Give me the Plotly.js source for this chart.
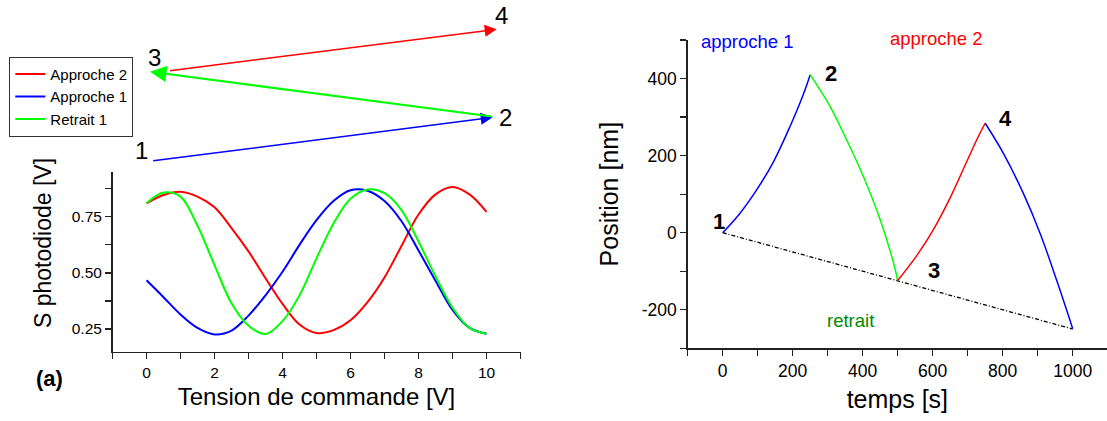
<!DOCTYPE html>
<html>
<head>
<meta charset="utf-8">
<script src="https://cdn.plot.ly/plotly-3.0.1.min.js"></script>
<style>html,body{margin:0;padding:0;background:#fff;}</style>
</head>
<body>
<div id="chart" style="width:1107px;height:421px;"></div>
<script>
// ---------- (a) photodiode signal vs control voltage ----------
const voltage   = [0, 0.5, 1, 1.5, 2, 2.5, 3, 3.5, 4, 4.5, 5, 5.5, 6, 6.5, 7, 7.5, 8, 8.5, 9, 9.5, 10];
const approche2 = [0.81, 0.847, 0.862, 0.84, 0.792, 0.70, 0.596, 0.476, 0.362, 0.27, 0.232, 0.245, 0.289, 0.37, 0.48, 0.62, 0.76, 0.85, 0.883, 0.85, 0.772];
const approche1 = [0.467, 0.392, 0.315, 0.255, 0.226, 0.243, 0.31, 0.40, 0.505, 0.625, 0.735, 0.82, 0.868, 0.866, 0.82, 0.73, 0.60, 0.465, 0.335, 0.255, 0.229];
const retrait1  = [0.81, 0.858, 0.84, 0.71, 0.535, 0.365, 0.265, 0.228, 0.285, 0.40, 0.565, 0.72, 0.83, 0.872, 0.855, 0.78, 0.64, 0.485, 0.345, 0.255, 0.229];
const seriesNames = ['Approche 2', 'Approche 1', 'Retrait 1'];

// ---------- position vs time ----------
const tApproche1   = [0, 49, 97, 145, 192, 230, 250];
const posApproche1 = [0, 50, 111, 184, 275, 358, 410];
const tRetrait     = [250, 307, 354, 402, 449, 488, 500];
const posRetrait   = [410, 327, 241, 146, 36, -78, -124];
const tApproche2   = [500, 554, 602, 649, 697, 730, 750];
const posApproche2 = [-124, -60, 8, 89, 184, 249, 284];
const tRetour      = [750, 802, 859, 907, 954, 1000];
const posRetour    = [284, 206, 102, -2, -123, -249];
const tBaseline    = [0, 1000];
const posBaseline  = [0, -250];
const positionTickVals = [-200, 0, 200, 400];
const positionTickText = ['-200', '0', '200', '400'];

const FONT = 'Liberation Sans, Arial, Helvetica, sans-serif';
const RED = '#ff0000', BLUE = '#0000ff', GREEN = '#00ff00', AX = '#222222';
const W = 1107, H = 421;

const traces = [
  {x: voltage, y: approche2, name: seriesNames[0], mode: 'lines', line: {color: RED, width: 2, shape: 'spline', smoothing: 1}, xaxis: 'x', yaxis: 'y'},
  {x: voltage, y: approche1, name: seriesNames[1], mode: 'lines', line: {color: BLUE, width: 2, shape: 'spline', smoothing: 1}, xaxis: 'x', yaxis: 'y'},
  {x: voltage, y: retrait1,  name: seriesNames[2], mode: 'lines', line: {color: GREEN, width: 2, shape: 'spline', smoothing: 1}, xaxis: 'x', yaxis: 'y'},
  {x: tBaseline, y: posBaseline, mode: 'lines', showlegend: false, line: {color: '#000', width: 1.3, dash: '4px,2px,1px,2px'}, xaxis: 'x2', yaxis: 'y2'},
  {x: tApproche1, y: posApproche1, mode: 'lines', showlegend: false, line: {color: BLUE, width: 1.5, shape: 'spline'}, xaxis: 'x2', yaxis: 'y2'},
  {x: tRetrait, y: posRetrait, mode: 'lines', showlegend: false, line: {color: GREEN, width: 1.5, shape: 'spline'}, xaxis: 'x2', yaxis: 'y2'},
  {x: tApproche2, y: posApproche2, mode: 'lines', showlegend: false, line: {color: RED, width: 1.5, shape: 'spline'}, xaxis: 'x2', yaxis: 'y2'},
  {x: tRetour, y: posRetour, mode: 'lines', showlegend: false, line: {color: BLUE, width: 1.5, shape: 'spline'}, xaxis: 'x2', yaxis: 'y2'}
];

function axisBase(extra) {
  return Object.assign({
    showline: true, linecolor: AX, linewidth: 1.5, mirror: false,
    ticks: 'outside', ticklen: 6, tickwidth: 1.2, tickcolor: AX,
    showgrid: false, zeroline: false, automargin: false, fixedrange: true
  }, extra);
}

const px = v => v / W;           // pixel -> paper x
const py = v => 1 - v / H;       // pixel -> paper y

const diag = {xref: 'x3', yref: 'y3', axref: 'x3', ayref: 'y3', text: '', showarrow: true, arrowhead: 2};
const num = (t, x, y) => ({xref: 'x3', yref: 'y3', x: x, y: y, text: t, showarrow: false, font: {family: FONT, size: 24, color: '#000'}});
const bold = (t, x, y) => ({xref: 'x2', yref: 'y2', x: x, y: y, text: '<b>' + t + '</b>', showarrow: false, font: {family: FONT, size: 22, color: '#000'}});

const layout = {
  width: W, height: H,
  margin: {l: 0, r: 0, t: 0, b: 0},
  paper_bgcolor: '#fff', plot_bgcolor: 'rgba(0,0,0,0)',
  font: {family: FONT, color: '#000'},
  showlegend: true,
  legend: {
    x: px(9.3), y: py(56.7), xanchor: 'left', yanchor: 'top',
    bordercolor: '#333', borderwidth: 1, bgcolor: '#fff',
    font: {family: FONT, size: 15, color: '#000'}, tracegroupgap: 0
  },
  xaxis: axisBase({
    domain: [px(112.5), px(520.5)], range: [-1, 11], anchor: 'y',
    tick0: 0, dtick: 2, tickfont: {family: FONT, size: 15.5, color: '#000'},
    minor: {tick0: 0, dtick: 1, ticks: 'outside', ticklen: 6, tickcolor: AX, tickwidth: 1.2},
    title: {text: 'Tension de commande [V]', font: {family: FONT, size: 24, color: '#000'}, standoff: 8}
  }),
  yaxis: axisBase({
    domain: [py(351.5), py(171.9)], range: [0.15, 0.95], anchor: 'x',
    tick0: 0, dtick: 0.25, tickformat: '.2f', tickfont: {family: FONT, size: 15.5, color: '#000'},
    minor: {tick0: 0, dtick: 0.125, ticks: 'outside', ticklen: 6, tickcolor: AX, tickwidth: 1.2}
  }),
  xaxis2: axisBase({
    domain: [px(687.7), 1], range: [-100, 1098], anchor: 'y2',
    tick0: 0, dtick: 200, tickfont: {family: FONT, size: 17.5, color: '#000'},
    minor: {tick0: 0, dtick: 100, ticks: 'outside', ticklen: 6, tickcolor: AX, tickwidth: 1.2},
    title: {text: 'temps [s]', font: {family: FONT, size: 25, color: '#000'}, standoff: 10}
  }),
  yaxis2: axisBase({
    domain: [py(348.3), py(40)], range: [-300, 500], anchor: 'x2',
    tickmode: 'array', tickvals: positionTickVals, ticktext: positionTickText,
    tickfont: {family: FONT, size: 17.5, color: '#000'},
    minor: {tickmode: 'linear', tick0: 0, dtick: 100, ticks: 'outside', ticklen: 6, tickcolor: AX, tickwidth: 1.2},
    title: {text: 'Position [nm]', font: {family: FONT, size: 25, color: '#000'}, standoff: 16}
  }),
  xaxis3: {domain: [0, 1], range: [0, W], visible: false, fixedrange: true, anchor: 'y3'},
  yaxis3: {domain: [0, 1], range: [H, 0], visible: false, fixedrange: true, anchor: 'x3'},
  annotations: [
    // schematic of the cycle 1 -> 2 -> 3 -> 4
    Object.assign({}, diag, {ax: 151.7, ay: 161, x: 492.7, y: 117.3, arrowcolor: BLUE, arrowwidth: 1.5, arrowsize: 1.6}),
    Object.assign({}, diag, {ax: 493.3, ay: 116.7, x: 150, y: 71.7, arrowcolor: GREEN, arrowwidth: 2.2, arrowsize: 1.5}),
    Object.assign({}, diag, {ax: 168.3, ay: 71, x: 496.7, y: 29.3, arrowcolor: RED, arrowwidth: 1.5, arrowsize: 1.6}),
    num('1', 141.7, 150), num('2', 505.7, 117.3), num('3', 154, 57.3), num('4', 501.7, 15),
    {xref: 'x3', yref: 'y3', x: 49.5, y: 378, text: '<b>(a)</b>', showarrow: false, font: {family: FONT, size: 22, color: '#000'}},
    {xref: 'x3', yref: 'y3', x: 42.5, y: 243.5, text: 'S photodiode [V]', textangle: -90, showarrow: false, font: {family: FONT, size: 23, color: '#000'}},
    // right panel labels
    {xref: 'x3', yref: 'y3', x: 747, y: 41.7, text: 'approche 1', showarrow: false, font: {family: FONT, size: 18.5, color: BLUE}},
    {xref: 'x3', yref: 'y3', x: 936, y: 38.3, text: 'approche 2', showarrow: false, font: {family: FONT, size: 18.5, color: RED}},
    {xref: 'x2', yref: 'y2', x: 365, y: -229, text: 'retrait', showarrow: false, font: {family: FONT, size: 18.5, color: '#008a00'}},
    bold('1', -12, 28), bold('2', 309, 414), bold('3', 605, -97), bold('4', 809, 297)
  ]
};

Plotly.newPlot('chart', traces, layout, {staticPlot: true, displayModeBar: false});
</script>
</body>
</html>
